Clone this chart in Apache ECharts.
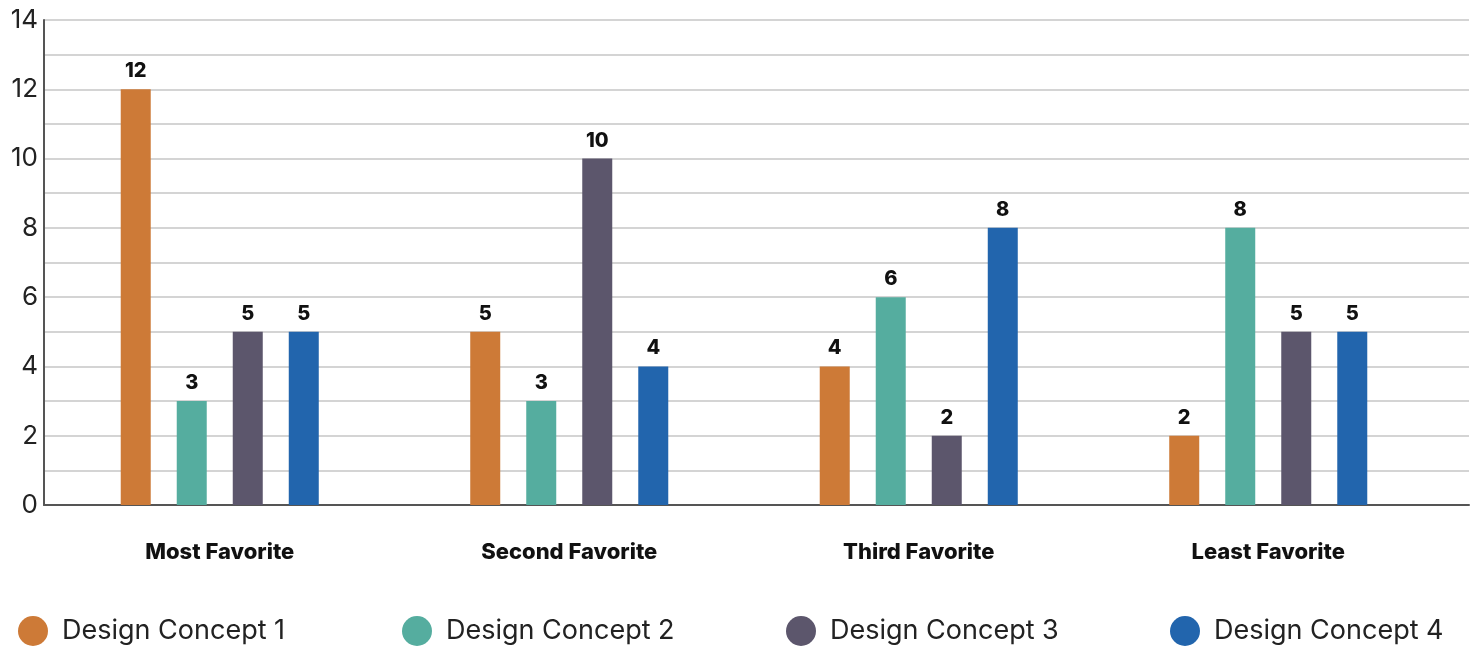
<!DOCTYPE html>
<html><head><meta charset="utf-8">
<script src="https://cdn.jsdelivr.net/npm/echarts@6/dist/echarts.min.js"></script>
<style>html,body{margin:0;padding:0;background:#fff}#c{width:1479px;height:648px}</style>
</head><body><div id="c"></div>
<script>
const categories = ['Most Favorite', 'Second Favorite', 'Third Favorite', 'Least Favorite'];
const seriesNames = ['Design Concept 1', 'Design Concept 2', 'Design Concept 3', 'Design Concept 4'];
const concept1 = [12, 5, 4, 2];
const concept2 = [3, 3, 6, 8];
const concept3 = [5, 10, 2, 5];
const concept4 = [5, 4, 8, 5];
const yTicks = [0, 2, 4, 6, 8, 10, 12, 14];
const colors = ['#CD7A37', '#55AD9F', '#5C566C', '#2265AD'];
const values = [concept1, concept2, concept3, concept4];

const font = 'Inter, Roboto, "Noto Sans", sans-serif';
const chart = echarts.init(document.getElementById('c'));
const legendLefts = [18, 402, 786, 1170];
chart.setOption({
  animation: false,
  textStyle: { fontFamily: font },
  grid: [
    { left: 44, right: 10, top: 20, bottom: 143 },
    { left: 45, width: 1398, top: 20, bottom: 143 }
  ],
  legend: seriesNames.map((n, i) => ({
    data: [n], left: legendLefts[i], top: 616, padding: 0, icon: 'circle',
    itemWidth: 30, itemHeight: 30,
    textStyle: { fontSize: 27, color: '#222', fontFamily: font, padding: [0, 0, 0, 9] }
  })),
  xAxis: [
    { type: 'value', gridIndex: 0, min: 0, max: 1, axisLine: { show: true, onZero: false, lineStyle: { color: '#555', width: 2 } },
      axisTick: { show: false }, axisLabel: { show: false }, splitLine: { show: false } },
    { type: 'category', gridIndex: 1, data: categories, axisLine: { show: false }, axisTick: { show: false },
      axisLabel: { margin: 36, fontSize: 22, fontWeight: 800, color: '#111', fontFamily: font } }
  ],
  yAxis: [
    { type: 'value', gridIndex: 0, min: 0, max: 14, interval: 1,
      axisLine: { show: true, lineStyle: { color: '#555', width: 2 } }, axisTick: { show: false },
      axisLabel: { fontSize: 26, color: '#222', margin: 6, fontFamily: font,
        formatter: v => yTicks.includes(v) ? String(v) : '' },
      splitLine: { show: true, lineStyle: { color: '#c6c6c6', width: 1.5 } } },
    { type: 'value', gridIndex: 1, min: 0, max: 14, show: false, splitLine: { show: false } }
  ],
  series: seriesNames.map((n, i) => ({
    name: n, type: 'bar', xAxisIndex: 1, yAxisIndex: 1, data: values[i],
    barWidth: 30, barGap: '86.7%',
    itemStyle: { color: colors[i] },
    label: { show: true, position: 'top', distance: 8, fontSize: 20, fontWeight: 800, color: '#111', fontFamily: font }
  }))
});
</script></body></html>
